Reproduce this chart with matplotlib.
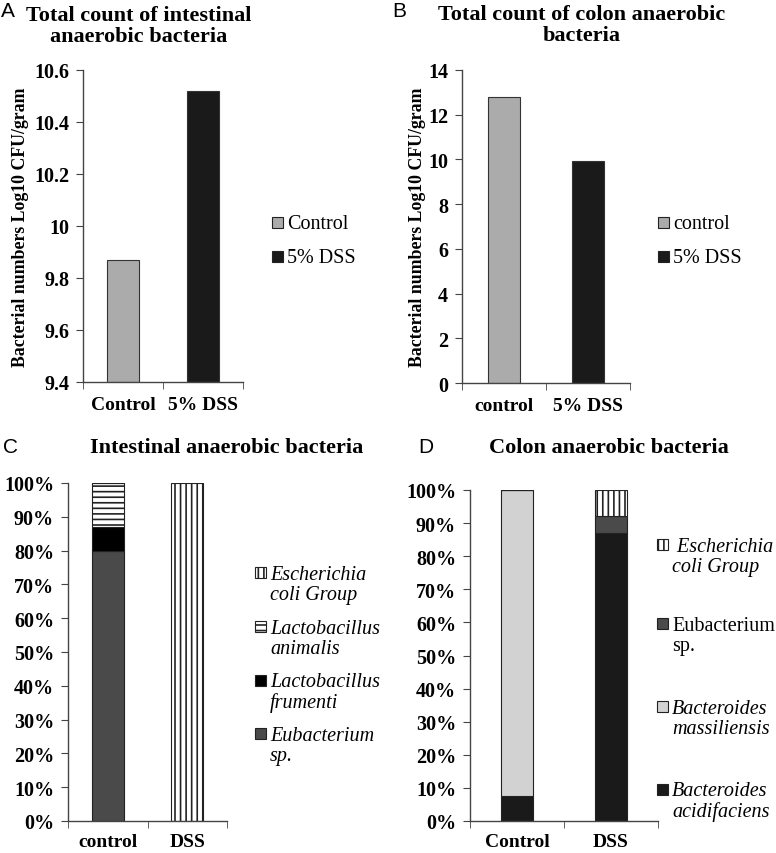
import matplotlib.pyplot as plt
from matplotlib.patches import Rectangle
import numpy as np

plt.rcParams['font.family'] = ['Liberation Serif', 'DejaVu Serif']
plt.rcParams['hatch.linewidth'] = 1.2

W, H = 776, 854

# panel A - total count, intestine
a_groups = ['Control', '5% DSS']
a_values = [9.87, 10.52]
a_ticks = [9.4, 9.6, 9.8, 10.0, 10.2, 10.4, 10.6]
a_ticklabels = ['9.4', '9.6', '9.8', '10', '10.2', '10.4', '10.6']
a_legend = ['Control', '5% DSS']

# panel B - total count, colon
b_groups = ['control', '5% DSS']
b_values = [12.8, 9.93]
b_ticks = [0, 2, 4, 6, 8, 10, 12, 14]
b_legend = ['control', '5% DSS']

# panel C - intestinal composition (%)
c_groups = ['control', 'DSS']
c_eubacterium = [80, 0]
c_frumenti = [7, 0]
c_animalis = [13, 0]
c_ecoli = [0, 100]

# panel D - colon composition (%)
d_groups = ['Control', 'DSS']
d_acidifaciens = [7.5, 87]
d_massiliensis = [92.5, 0]
d_eubacterium = [0, 5.2]
d_ecoli = [0, 7.8]

pct_ticks = list(range(0, 101, 10))

GRAY = '#ababab'
BLACK = '#1a1a1a'
DARK = '#4a4a4a'
LIGHT = '#d2d2d2'

fig = plt.figure(figsize=(W / 100, H / 100), dpi=100)


def px_axes(x0, y0, x1, y1):
    return fig.add_axes([x0 / W, 1 - y1 / H, (x1 - x0) / W, (y1 - y0) / H])


def fx(x):
    return x / W


def fy(y):
    return 1 - y / H


def style(ax, groups, xpad):
    for s in ['top', 'right']:
        ax.spines[s].set_visible(False)
    for s in ['left', 'bottom']:
        ax.spines[s].set_color('#444444')
        ax.spines[s].set_linewidth(1.0)
    ax.set_xlim(-0.5, 1.5)
    ax.set_xticks([0, 1])
    ax.set_xticklabels(groups, fontsize=14, fontweight='bold')
    ax.set_xticks([-0.5, 0.5, 1.5], minor=True)
    ax.tick_params(axis='x', which='major', length=0, pad=xpad)
    ax.tick_params(axis='x', which='minor', length=5, direction='out', color='#444444')
    ax.tick_params(axis='y', length=5, direction='out', color='#444444', pad=5)
    for lab in ax.get_yticklabels():
        lab.set_fontsize(14.5)
        lab.set_fontweight('bold')


def legend_item(x, base, lines, face, hatch=None, italic=False):
    # base = baseline of first line; text anchored on the last line's baseline
    sq = Rectangle((fx(x), fy(base)), 11 / W, 11 / H, transform=fig.transFigure,
                   facecolor=face, edgecolor='#222222', hatch=hatch, lw=0.8)
    fig.patches.append(sq)
    nl = lines.count('\n')
    fig.text(fx(x + 15), fy(base + 21 * nl), lines, fontsize=14.5, va='baseline', ha='left',
             style='italic' if italic else 'normal', linespacing=1.1)


def panel_letter(x, base, s):
    fig.text(fx(x), fy(base), s, fontsize=15, va='baseline', ha='left',
             family=['Liberation Sans', 'DejaVu Sans'])


def title(xc, base, s):
    # base = baseline of last line
    fig.text(fx(xc), fy(base), s, fontsize=16, fontweight='bold', va='baseline',
             ha='center', linespacing=1.05)


def ylabel(xc, yc):
    fig.text(fx(xc), fy(yc), 'Bacterial numbers Log10 CFU/gram', rotation=90, fontsize=12.8,
             fontweight='bold', ha='center', va='center')


# ---- A ----
axA = px_axes(83, 71, 243, 383)
axA.bar([0, 1], [v - a_ticks[0] for v in a_values], width=0.4, bottom=a_ticks[0],
        color=[GRAY, BLACK], edgecolor='#333333', lw=0.8)
axA.set_ylim(a_ticks[0], a_ticks[-1])
axA.set_yticks(a_ticks)
axA.set_yticklabels(a_ticklabels)
style(axA, a_groups, 10)
ylabel(21, 227)
legend_item(272, 229, a_legend[0], GRAY)
legend_item(272, 263, a_legend[1], BLACK)
panel_letter(1, 17, 'A')
title(139, 42, 'Total count of intestinal\nanaerobic bacteria')

# ---- B ----
axB = px_axes(462, 71, 630, 384)
axB.bar([0, 1], b_values, width=0.39, color=[GRAY, BLACK], edgecolor='#333333', lw=0.8)
axB.set_ylim(0, 14)
axB.set_yticks(b_ticks)
style(axB, b_groups, 10)
ylabel(417, 227)
legend_item(658, 229, b_legend[0], GRAY)
legend_item(658, 263, b_legend[1], BLACK)
panel_letter(392, 17, 'B')
title(582, 41, 'Total count of colon anaerobic\nbacteria')

# ---- C ----
axC = px_axes(68, 484, 227, 822)
x = np.arange(2)
bottom = np.zeros(2)
for vals, face, hatch in [(c_eubacterium, DARK, None), (c_frumenti, '#000000', None),
                          (c_animalis, 'white', '---'), (c_ecoli, 'white', '|||')]:
    vals = np.array(vals, dtype=float)
    axC.bar(x, vals, width=0.4, bottom=bottom, color=face, edgecolor='#222222',
            hatch=hatch, lw=0.8)
    bottom += vals
axC.set_ylim(0, 100)
axC.set_yticks(pct_ticks)
axC.set_yticklabels([f'{t}%' for t in pct_ticks])
style(axC, c_groups, 9)
legend_item(255, 579, 'Escherichia\ncoli Group', 'white', '|||', True)
legend_item(255, 633, 'Lactobacillus\nanimalis', 'white', '---', True)
legend_item(255, 687, 'Lactobacillus\nfrumenti', '#000000', None, True)
legend_item(255, 740, 'Eubacterium\nsp.', DARK, None, True)
panel_letter(3, 453, 'C')
title(227, 453, 'Intestinal anaerobic bacteria')

# ---- D ----
axD = px_axes(470, 491, 658, 822)
bottom = np.zeros(2)
for vals, face, hatch in [(d_acidifaciens, BLACK, None), (d_massiliensis, LIGHT, None),
                          (d_eubacterium, DARK, None), (d_ecoli, 'white', '|||')]:
    vals = np.array(vals, dtype=float)
    axD.bar(x, vals, width=0.33, bottom=bottom, color=face, edgecolor='#222222',
            hatch=hatch, lw=0.8)
    bottom += vals
axD.set_ylim(0, 100)
axD.set_yticks(pct_ticks)
axD.set_yticklabels([f'{t}%' for t in pct_ticks])
style(axD, d_groups, 9)
legend_item(657, 551, ' Escherichia\ncoli Group', 'white', '|||', True)
legend_item(657, 630, 'Eubacterium\nsp.', DARK, None, False)
legend_item(657, 713, 'Bacteroides\nmassiliensis', LIGHT, None, True)
legend_item(657, 796, 'Bacteroides\nacidifaciens', BLACK, None, True)
panel_letter(418, 453, 'D')
title(609, 453, 'Colon anaerobic bacteria')

fig.savefig('out.png', dpi=100)
